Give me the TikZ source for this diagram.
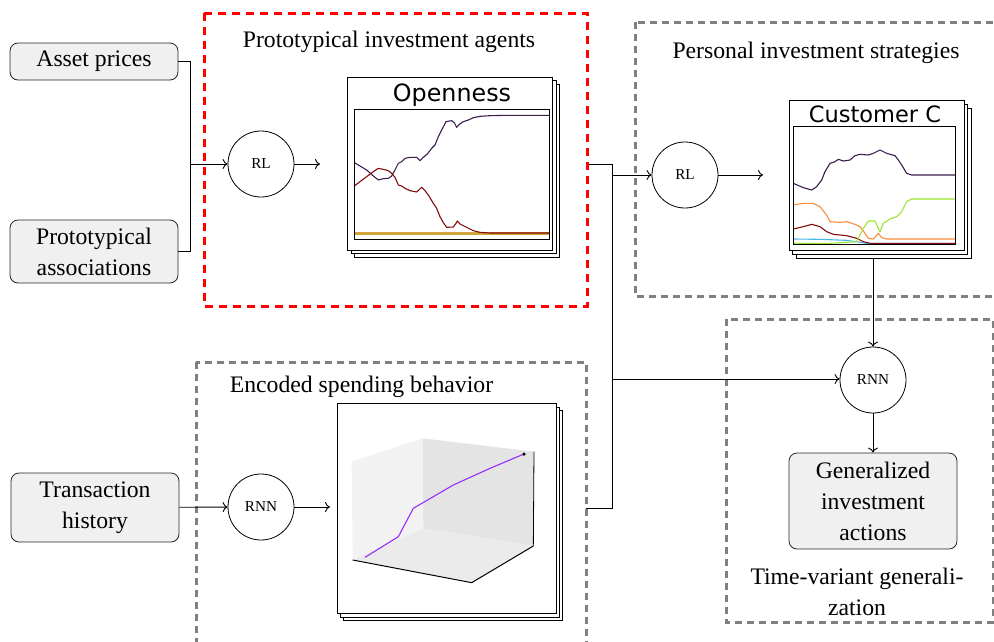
\documentclass[tikz,border=0pt]{standalone}
\usepackage{fontspec}
\setmainfont{Liberation Serif}
\newfontfamily\plotfont{DejaVu Sans}
\usetikzlibrary{arrows.meta}
\newcommand\myBig{\fontsize{23.7}{31}\selectfont}
\newcommand\mySmall{\fontsize{15.2}{18}\selectfont}
\definecolor{boxgray}{RGB}{240,240,240}
\definecolor{dgray}{RGB}{128,128,128}
\definecolor{opurple}{RGB}{60,28,78}
\definecolor{ored}{RGB}{130,12,12}
\definecolor{ogold}{RGB}{210,165,60}
\definecolor{corange}{RGB}{255,140,60}
\definecolor{cgreen}{RGB}{155,230,45}
\definecolor{ccyan}{RGB}{70,185,235}
\definecolor{wallL}{RGB}{242,242,242}
\definecolor{wallR}{RGB}{228,228,228}
\definecolor{floorc}{RGB}{235,235,235}
\definecolor{tpurple}{RGB}{150,45,250}
\tikzset{
  inbox/.style={draw=black!85, fill=boxgray, rounded corners=8pt, minimum width=168pt,
    align=center, font=\myBig, inner sep=2pt, line width=0.8pt},
  circ/.style={circle, draw, minimum size=66pt, inner sep=0pt, font=\mySmall, line width=0.8pt},
  conn/.style={line width=0.9pt},
  arr/.style={conn, -{To[length=5pt,width=10pt]}},
  reddash/.style={draw=red, line width=3pt, dash pattern=on 8pt off 6pt},
  graydash/.style={draw=dgray, line width=3pt, dash pattern=on 7pt off 5pt},
  frame/.style={draw=black, fill=white, line width=0.9pt, inner sep=0pt},
  ttl/.style={font=\myBig, align=center, inner sep=0pt},
  ptitle/.style={font=\plotfont, inner sep=0pt},
  curve/.style={line width=1.1pt, line join=round},
  axesbox/.style={draw=black, line width=0.9pt},
}
\begin{document}
\begin{tikzpicture}[x=1pt,y=-1pt]
\useasboundingbox (0,0) rectangle (994,641);

% dashed group boxes
\draw[reddash] (204,13) rectangle (587,306);
\draw[graydash] (635,22) rectangle (1002,296);
\draw[graydash] (196,362) rectangle (586,670);
\draw[graydash] (726,319) rectangle (993,622);

\node[ttl] (tAgents) at (389,42) {Prototypical investment agents};
\node[ttl] (tPersonal) at (816,53) {Personal investment strategies};
\node[ttl] (tEncoded) at (361.5,387) {Encoded spending behavior};
\node[ttl] (tTime) at (857,592) {Time-variant generali-\\zation};

% input boxes
\node[inbox, minimum height=37pt] (asset) at (94,61.5) {Asset prices};
\node[inbox, minimum height=63pt] (proto) at (94,251.5) {Prototypical\\associations};
\node[inbox, minimum height=69pt] (trans) at (95,507.5) {Transaction\\history};
\node[inbox, minimum height=96pt] (gen) at (873,501) {Generalized\\investment\\actions};

% circles
\node[circ] (rl1) at (261,164) {RL};
\node[circ] (rl2) at (685,175) {RL};
\node[circ] (rnn1) at (261,507) {RNN};
\node[circ] (rnn2) at (873,380) {RNN};

% Openness stack
\node[frame, minimum width=205pt, minimum height=173pt] (openB2) at (456.5,170.5) {};
\node[frame, minimum width=205pt, minimum height=173pt] (openB1) at (453.5,166.5) {};
\node[frame, minimum width=205pt, minimum height=173pt] (openF) at (449.5,163.5) {};
\node[ptitle, font=\plotfont\fontsize{23.8}{26}\selectfont] (openT) at (452,95) {Openness};
\begin{scope}[shift={(340,70)}, scale=1/3]
  \draw[line width=2.6pt, ogold] (44,490) -- (627,490);
  \draw[curve, opurple] (43,278)--(60,288)--(80,300)--(100,318)--(115,330)--(130,326)--(145,325)--(155,318)--(165,300)--(175,280)--(185,275)--(195,265)--(210,262)--(230,262)--(240,272)--(250,262)--(262,252)--(275,235)--(285,225)--(295,200)--(305,180)--(318,155)--(335,152)--(343,158)--(350,172)--(358,163)--(370,155)--(385,150)--(400,143)--(420,139)--(450,137)--(500,136)--(628,136);
  \draw[curve, ored] (43,348)--(60,335)--(80,320)--(100,305)--(115,295)--(130,298)--(145,302)--(155,310)--(165,322)--(175,345)--(185,348)--(195,355)--(210,362)--(230,366)--(245,352)--(255,362)--(265,375)--(280,400)--(290,415)--(300,440)--(310,458)--(320,472)--(340,471)--(348,460)--(352,453)--(360,462)--(380,472)--(400,482)--(420,487)--(450,489)--(628,489);
  \draw[axesbox] (43,118) rectangle (628,508);
\end{scope}

% Customer C stack
\node[frame, minimum width=175pt, minimum height=150pt] (custB2) at (883.5,183) {};
\node[frame, minimum width=175pt, minimum height=150pt] (custB1) at (879.5,179) {};
\node[frame, minimum width=175pt, minimum height=150pt] (custF) at (876.5,175) {};
\node[ptitle, font=\plotfont\fontsize{22.5}{25}\selectfont] (custT) at (875,114) {Customer C};
\begin{scope}[shift={(780,95)}, scale=1/3]
  \draw[curve, ccyan] (40,432)--(120,433)--(200,436)--(260,445)--(525,445);
  \draw[curve, ored] (40,402)--(70,395)--(95,388)--(120,395)--(140,410)--(160,418)--(200,422)--(230,430)--(250,440)--(270,445)--(525,445);
  \draw[curve, corange] (40,330)--(70,325)--(100,325)--(120,335)--(140,360)--(150,380)--(180,382)--(200,380)--(225,388)--(240,395)--(255,415)--(265,430)--(280,432)--(295,415)--(305,428)--(320,432)--(525,432);
  \draw[curve, cgreen] (40,445)--(150,445)--(230,440)--(250,400)--(265,378)--(285,378)--(295,400)--(300,410)--(310,385)--(330,372)--(350,365)--(365,350)--(380,320)--(395,312)--(525,312);
  \draw[curve, opurple] (40,265)--(70,278)--(95,285)--(110,275)--(125,255)--(135,230)--(150,205)--(165,200)--(175,193)--(190,198)--(210,195)--(225,182)--(240,178)--(265,180)--(280,175)--(300,165)--(320,175)--(345,182)--(355,195)--(365,210)--(380,235)--(395,240)--(525,240);
  \draw[axesbox] (40,95) rectangle (525,447);
\end{scope}

% 3D stack
\node[frame, minimum width=219pt, minimum height=210pt] (encB2) at (452.5,515) {};
\node[frame, minimum width=219pt, minimum height=210pt] (encB1) at (449.5,512) {};
\node[frame, minimum width=219pt, minimum height=210pt] (encF) at (446.5,508) {};
\begin{scope}[shift={(330,400)}, scale=1/3]
  \fill[wallL] (65,185)--(278,115)--(280,385)--(68,480)--cycle;
  \fill[wallR] (278,115)--(612,155)--(610,438)--(280,385)--cycle;
  \fill[floorc] (68,480)--(280,385)--(610,438)--(425,548)--cycle;
  \draw[line width=1pt] (68,480)--(425,548)--(610,438);
  \draw[line width=0.8pt] (612,155)--(610,438);
  \draw[line width=1.1pt, tpurple, line join=round] (105,472)--(205,410)--(250,325)--(370,255)--(480,205)--(582,162);
  \node[circle, fill=black, inner sep=0pt, minimum size=3.5pt] (dotEnd) at (582,162) {};
\end{scope}

% connectors
\coordinate (j1) at (190,164);
\draw[conn] (asset.east) -| (j1);
\draw[conn] (proto.east) -| (j1);
\draw[arr] (j1) -- (rl1);
\coordinate (rl1out) at (320,164);
\draw[arr] (rl1) -- (rl1out);

\coordinate (o1) at (589,164);
\coordinate (j2) at (612,164);
\coordinate (j4) at (612,508);
\coordinate (o2) at (586,508);
\draw[conn] (o1) -- (j2) -- (j4) -- (o2);
\coordinate (j5) at (612,175);
\draw[arr] (j5) -- (rl2);
\coordinate (j6) at (612,379);
\draw[arr] (j6) -- (rnn2.west |- j6);
\coordinate (rl2out) at (763,175);
\draw[arr] (rl2) -- (rl2out);

\coordinate (c1) at (873,258);
\draw[arr] (c1) -- (rnn2);
\draw[arr] (rnn2) -- (gen);

\draw[arr] (trans) -- (rnn1);
\coordinate (rnn1out) at (330,507);
\draw[arr] (rnn1) -- (rnn1out);
\end{tikzpicture}
\end{document}
